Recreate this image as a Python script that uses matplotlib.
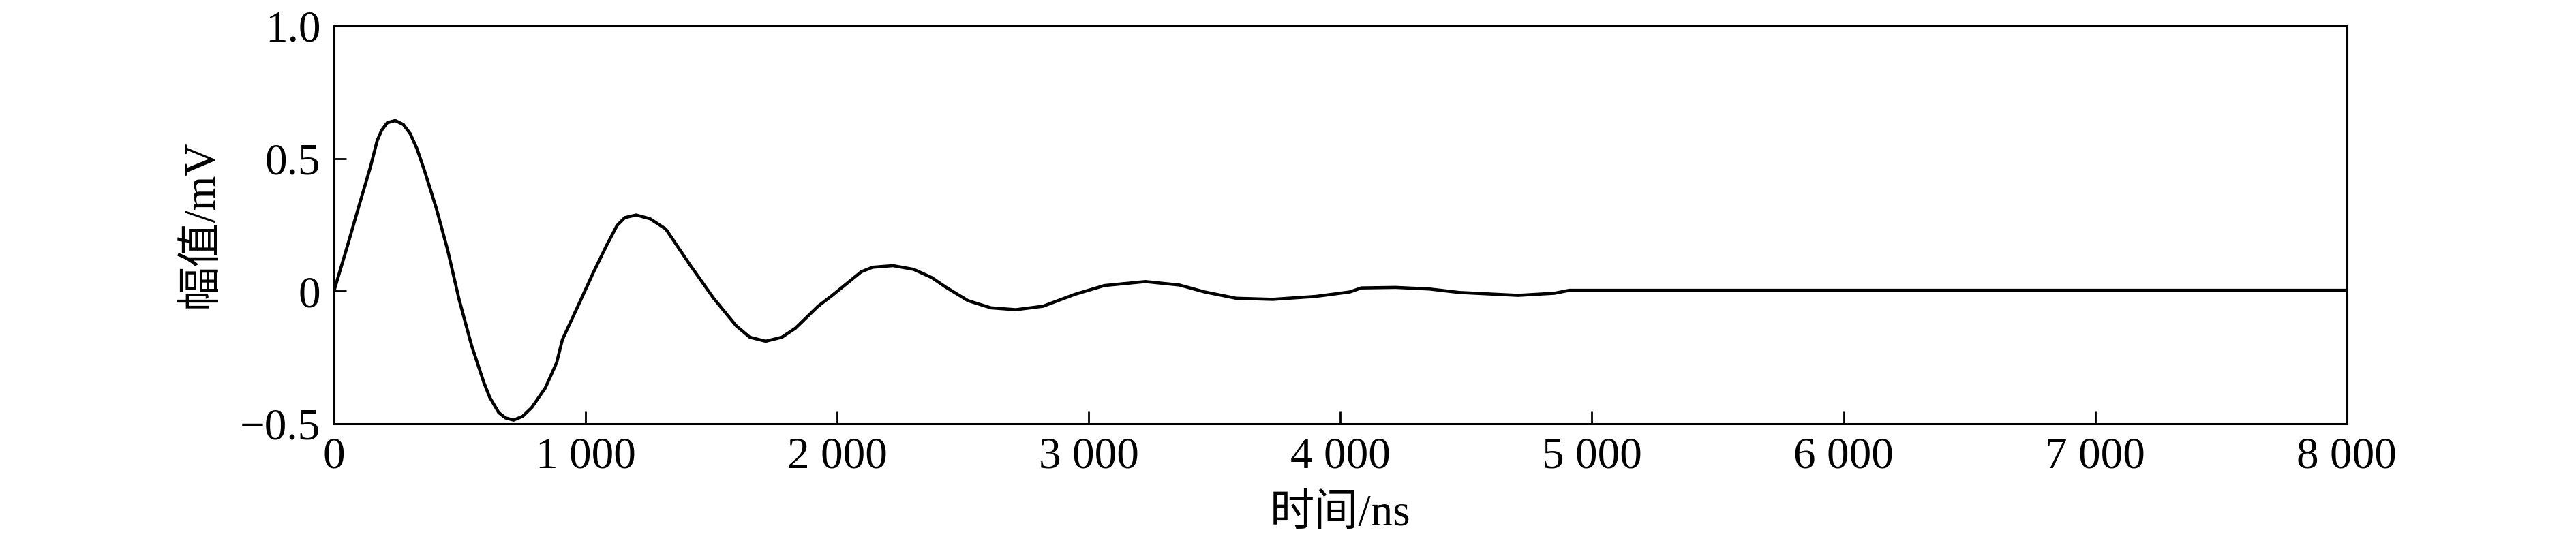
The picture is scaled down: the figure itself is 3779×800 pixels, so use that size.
import numpy as np
import matplotlib
matplotlib.use("Agg")
import matplotlib.pyplot as plt

plt.rcParams['font.family'] = ['Liberation Serif', 'Noto Sans CJK SC']

# ==========================================================
# Waveform (time in ns, amplitude in mV)
# ==========================================================
t_ns = [0, 54, 99, 145, 172, 190, 212, 244, 276, 303, 330, 361, 407, 452,
        497, 547, 596, 619, 655, 682, 714, 750, 786, 840, 885, 908, 967,
        1030, 1084, 1125, 1156, 1201, 1256, 1319, 1418, 1509, 1599, 1653,
        1716, 1780, 1834, 1924, 1978, 2096, 2141, 2222, 2304, 2376, 2430,
        2520, 2611, 2710, 2818, 2945, 3062, 3225, 3360, 3460, 3586, 3731,
        3902, 4038, 4083, 4219, 4354, 4472, 4706, 4851, 4910, 8000]
amp_mv = [0.0, 0.172, 0.320, 0.468, 0.568, 0.607, 0.635, 0.643, 0.628,
          0.594, 0.537, 0.451, 0.312, 0.155, -0.030, -0.205, -0.345,
          -0.400, -0.458, -0.478, -0.486, -0.472, -0.439, -0.365, -0.270,
          -0.183, -0.062, 0.068, 0.173, 0.247, 0.277, 0.287, 0.273, 0.234,
          0.095, -0.027, -0.131, -0.174, -0.189, -0.174, -0.140, -0.057,
          -0.018, 0.073, 0.090, 0.096, 0.082, 0.051, 0.016, -0.036, -0.063,
          -0.070, -0.057, -0.012, 0.021, 0.036, 0.023, -0.003, -0.027,
          -0.031, -0.020, -0.003, 0.012, 0.014, 0.008, -0.005, -0.016,
          -0.008, 0.003, 0.003]

x_ticks = [0, 1000, 2000, 3000, 4000, 5000, 6000, 7000, 8000]
x_tick_labels = ["0", "1 000", "2 000", "3 000", "4 000", "5 000",
                 "6 000", "7 000", "8 000"]
y_ticks = [-0.5, 0, 0.5, 1.0]
y_tick_labels = ["\u22120.5", "0", "0.5", "1.0"]

# ==========================================================
# Plot
# ==========================================================
fig = plt.figure(figsize=(37.8, 8), dpi=100)
ax = fig.add_axes([0.1296, 0.2225, 0.7812, 0.730])

ax.plot(t_ns, amp_mv, color="black", linewidth=3.3,
        solid_joinstyle="round", solid_capstyle="round")

ax.set_xlim(0, 8000)
ax.set_ylim(-0.5, 1.0)
ax.set_xticks(x_ticks)
ax.set_xticklabels(x_tick_labels)
ax.set_yticks(y_ticks)
ax.set_yticklabels(y_tick_labels)

ax.tick_params(direction="in", length=13, width=2, labelsize=47,
               top=False, right=False)
ax.tick_params(axis="x", pad=14)
ax.tick_params(axis="y", pad=14)
for s in ax.spines.values():
    s.set_linewidth(2.2)

ax.set_xlabel("时间/ns", fontsize=47)
ax.xaxis.label.set_va("center")
ax.xaxis.set_label_coords(0.5, -0.228)
ax.set_ylabel("幅值/mV", fontsize=47)
ax.yaxis.label.set_va("center")
ax.yaxis.set_label_coords(-0.0657, 0.502)

fig.savefig("out.png", dpi=100)
